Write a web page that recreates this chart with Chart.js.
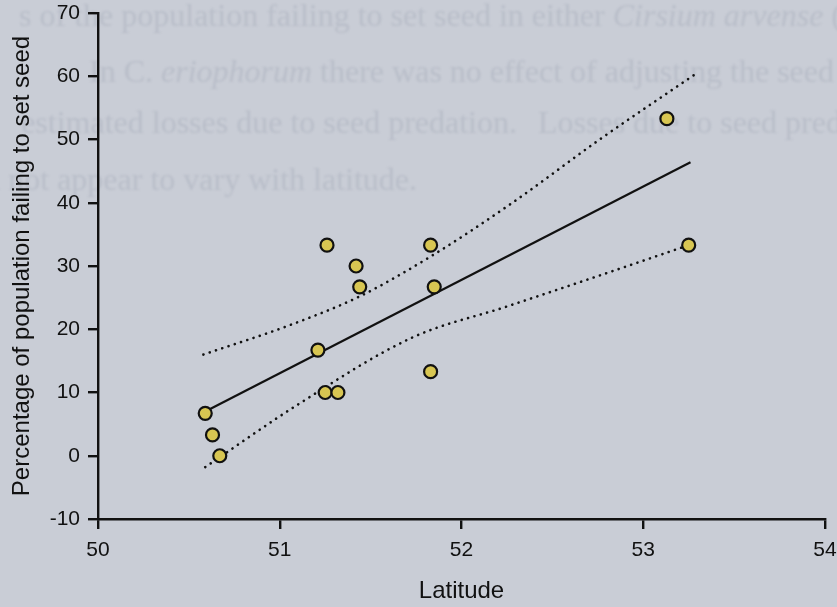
<!DOCTYPE html>
<html>
<head>
<meta charset="utf-8">
<script src="https://cdn.jsdelivr.net/npm/chart.js@4/dist/chart.umd.min.js"></script>
<style>
  html, body { margin: 0; padding: 0; background: #c9cdd6; }
  #wrap { width: 837px; height: 607px; }
</style>
</head>
<body>
<div id="wrap"><canvas id="latChart" width="837" height="607"></canvas></div>
<script>
// sites: latitude vs % of population failing to set seed
const latitude = [50.59, 50.63, 50.67, 51.21, 51.26, 51.25, 51.32, 51.42, 51.44, 51.83, 51.85, 51.83, 53.13, 53.25];
const failing  = [6.7, 3.3, 0, 16.7, 33.3, 10, 10, 30, 26.7, 33.3, 26.7, 13.3, 53.3, 33.3];

// fitted regression line (end points)
const fitLat = [50.59, 53.26];
const fitPct = [7.0, 46.4];

// confidence limits
const upperLat = [50.58, 51.06, 51.44, 51.83, 52.27, 52.76, 53.30];
const upperPct = [16.0, 20.7, 25.2, 31.5, 39.8, 50.0, 60.6];
const lowerLat = [50.59, 51.10, 51.73, 52.25, 52.76, 53.21];
const lowerPct = [-1.8, 8.1, 18.7, 23.6, 28.5, 32.9];

const xTicks = [50, 51, 52, 53, 54];
const yTicks = [-10, 0, 10, 20, 30, 40, 50, 60, 70];

const toXY = (xs, ys) => xs.map((x, i) => ({ x: x, y: ys[i] }));

// faint show-through of the printed page behind the figure
const SERIF = '32px "Liberation Serif", serif';
const SERIF_I = 'italic 32px "Liberation Serif", serif';

function drawRuns(c, runs, x, y, align) {
  let w = 0;
  runs.forEach(r => { c.font = r[1] ? SERIF_I : SERIF; w += c.measureText(r[0]).width; });
  let cx = align === 'right' ? x - w : x;
  c.textAlign = 'left';
  runs.forEach(r => {
    c.font = r[1] ? SERIF_I : SERIF;
    c.fillText(r[0], cx, y);
    cx += c.measureText(r[0]).width;
  });
}

const pageText = {
  id: 'pageText',
  beforeDraw(chart) {
    const c = chart.ctx;
    c.save();
    c.filter = 'blur(1.2px)';
    c.fillStyle = 'rgba(140,146,162,0.24)';
    c.textBaseline = 'alphabetic';
    drawRuns(c, [['s of the population failing to set seed in either '], ['Cirsium arvense', true], [' (']], 842, 26, 'right');
    drawRuns(c, [['In C. '], ['eriophorum', true], [' there was no effect of adjusting the seed']], 834, 82, 'right');
    drawRuns(c, [['estimated losses due to seed predation.']], 517, 133, 'right');
    drawRuns(c, [['Losses due to seed pred']], 538, 133, 'left');
    drawRuns(c, [['did not appear to vary with latitude.']], 417, 190, 'right');
    c.restore();
  }
};

const ctx = document.getElementById('latChart').getContext('2d');
const axisFont = { family: '"Liberation Sans", Arial, sans-serif', size: 21 };
const titleFont = { family: '"Liberation Sans", Arial, sans-serif', size: 24 };

new Chart(ctx, {
  type: 'scatter',
  data: {
    datasets: [
      {
        label: 'Sites',
        data: toXY(latitude, failing),
        backgroundColor: '#d8c652',
        borderColor: '#111',
        borderWidth: 2.2,
        pointRadius: 6.5,
        pointHoverRadius: 6.5
      },
      {
        label: 'Regression',
        data: toXY(fitLat, fitPct),
        showLine: true,
        borderColor: '#111',
        borderWidth: 2.2,
        pointRadius: 0
      },
      {
        label: 'Upper limit',
        data: toXY(upperLat, upperPct),
        showLine: true,
        cubicInterpolationMode: 'monotone',
        borderColor: '#111',
        borderWidth: 2.6,
        borderDash: [0.1, 6.5],
        borderCapStyle: 'round',
        pointRadius: 0
      },
      {
        label: 'Lower limit',
        data: toXY(lowerLat, lowerPct),
        showLine: true,
        cubicInterpolationMode: 'monotone',
        borderColor: '#111',
        borderWidth: 2.6,
        borderDash: [0.1, 6.5],
        borderCapStyle: 'round',
        pointRadius: 0
      }
    ]
  },
  options: {
    responsive: false,
    animation: false,
    layout: { padding: { top: 13, right: 12, left: 0, bottom: 0 } },
    plugins: {
      legend: { display: false },
      tooltip: { enabled: false }
    },
    scales: {
      x: {
        type: 'linear',
        min: 50,
        max: 54,
        afterFit(scale) {
          scale.height = 88;
          scale.paddingLeft = 0;
          scale.paddingRight = 0;
        },
        afterBuildTicks(scale) { scale.ticks = xTicks.map(v => ({ value: v })); },
        border: { display: true, color: '#111', width: 2.4 },
        grid: { display: true, drawOnChartArea: false, drawTicks: true, tickLength: 10, color: '#111', lineWidth: 2.4 },
        ticks: { color: '#111', font: axisFont, padding: 9, maxRotation: 0 },
        title: { display: true, text: 'Latitude', color: '#111', font: titleFont, padding: { top: 0, bottom: 1 } }
      },
      y: {
        type: 'linear',
        min: -10,
        max: 70,
        afterFit(scale) {
          scale.width = 98;
          scale.paddingTop = 0;
          scale.paddingBottom = 0;
        },
        afterBuildTicks(scale) { scale.ticks = yTicks.map(v => ({ value: v })); },
        border: { display: true, color: '#111', width: 2.4 },
        grid: { display: true, drawOnChartArea: false, drawTicks: true, tickLength: 10, color: '#111', lineWidth: 2.4 },
        ticks: { color: '#111', font: axisFont, padding: 8 },
        title: { display: true, text: 'Percentage of population failing to set seed', color: '#111', font: titleFont, padding: { top: 8, bottom: 0 } }
      }
    }
  },
  plugins: [pageText]
});
</script>
</body>
</html>
